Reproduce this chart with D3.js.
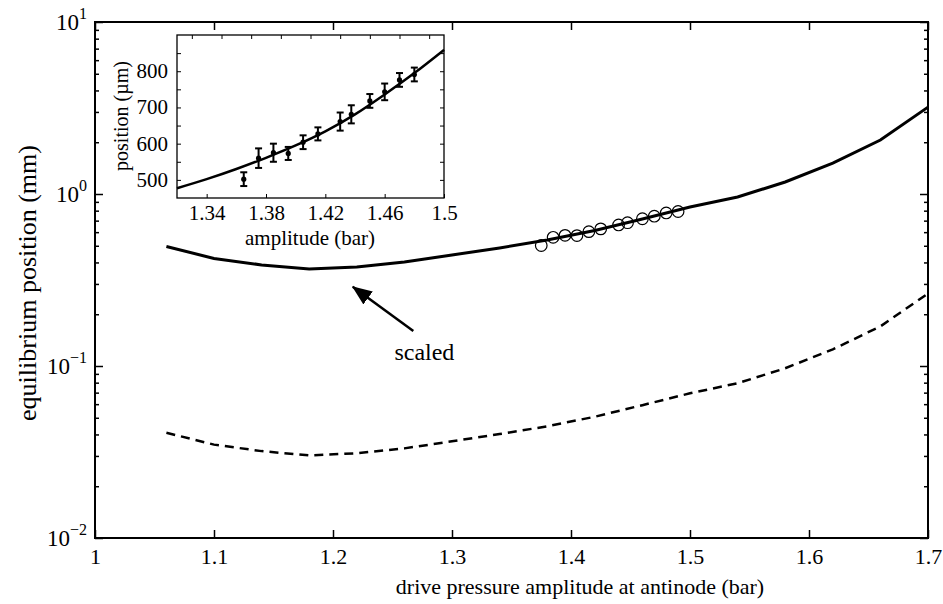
<!DOCTYPE html>
<html>
<head>
<meta charset="utf-8">
<script src="https://cdn.jsdelivr.net/npm/d3@7"></script>
<style>
  body { margin: 0; background: #fff; }
  svg { display: block; }
  text { font-family: 'Liberation Serif', 'Times New Roman', serif; fill: #000; }
</style>
</head>
<body>
<svg width="943" height="604"></svg>
<script>
// main curve, sampled every 0.04 bar
var drive = [1.06, 1.10, 1.14, 1.18, 1.22, 1.26, 1.30, 1.34, 1.38, 1.42, 1.46, 1.50, 1.54, 1.58, 1.62, 1.66, 1.70];
var scaledPos = [0.495, 0.422, 0.387, 0.366, 0.376, 0.402, 0.442, 0.486, 0.540, 0.614, 0.716, 0.840, 0.961, 1.174, 1.51, 2.06, 3.20];
var rawPos = [0.0409, 0.0349, 0.0320, 0.0302, 0.0311, 0.0332, 0.0365, 0.0402, 0.0446, 0.0507, 0.0592, 0.0694, 0.0794, 0.097, 0.125, 0.170, 0.264];

// measured points (inset, micrometres)
var measAmp = [1.365, 1.375, 1.385, 1.395, 1.405, 1.415, 1.430, 1.4375, 1.450, 1.460, 1.470, 1.480];
var measPos = [502, 560, 575, 573, 604, 627, 661, 681, 718, 743, 776, 791];
var measErr = [19, 27, 25, 18, 19, 18, 25, 25, 19, 23, 19, 19];
// same points as drawn in the main panel
var circAmp = [1.375, 1.385, 1.395, 1.405, 1.415, 1.425, 1.440, 1.4475, 1.460, 1.470, 1.480, 1.490];

// inset fit curve
var fitAmp = [1.32, 1.34, 1.36, 1.38, 1.40, 1.42, 1.44, 1.46, 1.48, 1.50];
var fitPos = [477, 502, 530, 561, 595, 634, 681, 736, 795, 859];

var xTicks = [1, 1.1, 1.2, 1.3, 1.4, 1.5, 1.6, 1.7];
var xTickLabels = ['1', '1.1', '1.2', '1.3', '1.4', '1.5', '1.6', '1.7'];
var yDecades = [0.01, 0.1, 1, 10];
var yExp = ['\u22122', '\u22121', '0', '1'];

var insetXTicks = [1.34, 1.38, 1.42, 1.46, 1.5];
var insetXTop = [1.33, 1.35, 1.37, 1.39, 1.41, 1.43, 1.45, 1.47, 1.49];
var insetYTicks = [500, 600, 700, 800];
var insetYMinor = [500, 550, 600, 650, 700, 750, 800, 850];

var svg = d3.select('svg');

var x = d3.scaleLinear().domain([1, 1.7]).range([95, 928]);
var y = d3.scaleLog().domain([0.01, 10]).range([538, 22]);

// ticks
svg.append('g')
    .attr('transform', 'translate(0,538)')
    .call(d3.axisBottom(x).tickValues(xTicks).tickSize(-8).tickSizeOuter(0).tickPadding(10)
        .tickFormat(function(d, i) { return xTickLabels[i]; }))
    .call(function(g) { g.select('.domain').remove(); })
    .selectAll('text').style('font-size', '22px');

svg.append('g')
    .attr('transform', 'translate(0,22)')
    .call(d3.axisTop(x).tickValues(xTicks).tickSize(-8).tickSizeOuter(0).tickFormat(''))
    .call(function(g) { g.select('.domain').remove(); });

var minor = y.ticks().filter(function(d) { return yDecades.indexOf(d) < 0; });

[[95, d3.axisLeft], [928, d3.axisRight]].forEach(function(s) {
    svg.append('g')
        .attr('transform', 'translate(' + s[0] + ',0)')
        .call(s[1](y).tickValues(minor).tickSize(-4).tickSizeOuter(0).tickFormat(''))
        .call(function(g) { g.select('.domain').remove(); });
    svg.append('g')
        .attr('transform', 'translate(' + s[0] + ',0)')
        .call(s[1](y).tickValues(yDecades).tickSize(-8).tickSizeOuter(0).tickFormat(''))
        .call(function(g) { g.select('.domain').remove(); });
});

svg.selectAll('g.tick line').attr('stroke', '#000').attr('stroke-width', 1.5);

// y labels with superscripts
var yl = svg.append('g').selectAll('text')
    .data(yDecades).enter()
    .append('text')
    .attr('x', 87)
    .attr('y', function(d) { return y(d) + 8; })
    .attr('text-anchor', 'end')
    .style('font-size', '23px');
yl.append('tspan').text('10');
yl.append('tspan').attr('dy', -11).style('font-size', '16px').text(function(d, i) { return yExp[i]; });

// frame
svg.append('rect')
    .attr('x', 95).attr('y', 22)
    .attr('width', 833).attr('height', 516)
    .attr('fill', 'none').attr('stroke', '#000').attr('stroke-width', 2);

var line = d3.line()
    .x(function(d, i) { return x(drive[i]); })
    .y(function(d) { return y(d); });

svg.append('path')
    .attr('d', line(scaledPos))
    .attr('fill', 'none').attr('stroke', '#000').attr('stroke-width', 3);

svg.append('path')
    .attr('d', line(rawPos))
    .attr('fill', 'none').attr('stroke', '#000').attr('stroke-width', 2.5)
    .attr('stroke-dasharray', '9,6');

svg.append('g').selectAll('circle')
    .data(circAmp).enter()
    .append('circle')
    .attr('cx', function(d) { return x(d); })
    .attr('cy', function(d, i) { return y(measPos[i] / 1000); })
    .attr('r', 5.8)
    .attr('fill', 'none').attr('stroke', '#000').attr('stroke-width', 1.2);

// arrow
svg.append('defs').append('marker')
    .attr('id', 'head')
    .attr('markerUnits', 'userSpaceOnUse')
    .attr('viewBox', '0 -9 20 18')
    .attr('markerWidth', 20).attr('markerHeight', 18)
    .attr('refX', 19).attr('refY', 0)
    .attr('orient', 'auto')
    .append('path').attr('d', 'M0,-8L20,0L0,8Z').attr('fill', '#000');

svg.append('line')
    .attr('x1', x(1.2675)).attr('y1', y(0.160))
    .attr('x2', x(1.2166)).attr('y2', y(0.289))
    .attr('stroke', '#000').attr('stroke-width', 2.5)
    .attr('marker-end', 'url(#head)');

svg.append('text')
    .attr('x', x(1.2768)).attr('y', y(0.108))
    .attr('text-anchor', 'middle')
    .style('font-size', '24px')
    .text('scaled');

// axis titles
svg.append('text')
    .attr('x', 580).attr('y', 594)
    .attr('text-anchor', 'middle')
    .style('font-size', '22px')
    .text('drive pressure amplitude at antinode (bar)');

svg.append('text')
    .attr('transform', 'translate(36,283) rotate(-90)')
    .attr('text-anchor', 'middle')
    .style('font-size', '26px')
    .text('equilibrium position (mm)');

// ---- inset ----
var ix = d3.scaleLinear().domain([1.32, 1.5]).range([177, 444]);
var iy = d3.scaleLinear().domain([450, 900]).range([198, 35]);
var inset = svg.append('g');

inset.append('rect')
    .attr('x', 177).attr('y', 35).attr('width', 267).attr('height', 163)
    .attr('fill', '#fff');

inset.append('g')
    .attr('transform', 'translate(0,198)')
    .call(d3.axisBottom(ix).tickValues(insetXTicks).tickSize(-4).tickSizeOuter(0).tickPadding(7)
        .tickFormat(function(d) { return d === 1.5 ? '1.5' : d.toFixed(2); }))
    .call(function(g) { g.select('.domain').remove(); })
    .selectAll('text').style('font-size', '21px');

inset.append('g')
    .attr('transform', 'translate(0,35)')
    .call(d3.axisTop(ix).tickValues(insetXTop).tickSize(-4).tickSizeOuter(0).tickFormat(''))
    .call(function(g) { g.select('.domain').remove(); });

inset.append('g')
    .attr('transform', 'translate(177,0)')
    .call(d3.axisLeft(iy).tickValues(insetYMinor).tickSize(-4).tickSizeOuter(0).tickFormat(''))
    .call(function(g) { g.select('.domain').remove(); });

inset.append('g')
    .attr('transform', 'translate(444,0)')
    .call(d3.axisRight(iy).tickValues(insetYMinor).tickSize(-4).tickSizeOuter(0).tickFormat(''))
    .call(function(g) { g.select('.domain').remove(); });

inset.selectAll('g.tick line').attr('stroke', '#000').attr('stroke-width', 1);

inset.append('g').selectAll('text')
    .data(insetYTicks).enter()
    .append('text')
    .attr('x', 168)
    .attr('y', function(d) { return iy(d) + 7; })
    .attr('text-anchor', 'end')
    .style('font-size', '21px')
    .text(function(d) { return d; });

inset.append('rect')
    .attr('x', 177).attr('y', 35).attr('width', 267).attr('height', 163)
    .attr('fill', 'none').attr('stroke', '#000').attr('stroke-width', 1.3);

inset.append('path')
    .attr('d', d3.line().curve(d3.curveMonotoneX)
        .x(function(d, i) { return ix(fitAmp[i]); })
        .y(function(d) { return iy(d); })(fitPos))
    .attr('fill', 'none').attr('stroke', '#000').attr('stroke-width', 2.5);

var pts = inset.append('g').selectAll('g')
    .data(measAmp).enter()
    .append('g')
    .attr('transform', function(d, i) { return 'translate(' + ix(d) + ',0)'; });

pts.append('line')
    .attr('y1', function(d, i) { return iy(measPos[i] - measErr[i]); })
    .attr('y2', function(d, i) { return iy(measPos[i] + measErr[i]); })
    .attr('stroke', '#000').attr('stroke-width', 2);
pts.append('line')
    .attr('x1', -3.5).attr('x2', 3.5)
    .attr('y1', function(d, i) { return iy(measPos[i] - measErr[i]); })
    .attr('y2', function(d, i) { return iy(measPos[i] - measErr[i]); })
    .attr('stroke', '#000').attr('stroke-width', 2);
pts.append('line')
    .attr('x1', -3.5).attr('x2', 3.5)
    .attr('y1', function(d, i) { return iy(measPos[i] + measErr[i]); })
    .attr('y2', function(d, i) { return iy(measPos[i] + measErr[i]); })
    .attr('stroke', '#000').attr('stroke-width', 2);
pts.append('circle')
    .attr('cy', function(d, i) { return iy(measPos[i]); })
    .attr('r', 2.6).attr('fill', '#000');

inset.append('text')
    .attr('x', 310).attr('y', 245)
    .attr('text-anchor', 'middle')
    .style('font-size', '21px')
    .text('amplitude (bar)');

inset.append('text')
    .attr('transform', 'translate(128,116) rotate(-90)')
    .attr('text-anchor', 'middle')
    .style('font-size', '20px')
    .text('position (\u00b5m)');
</script>
</body>
</html>
